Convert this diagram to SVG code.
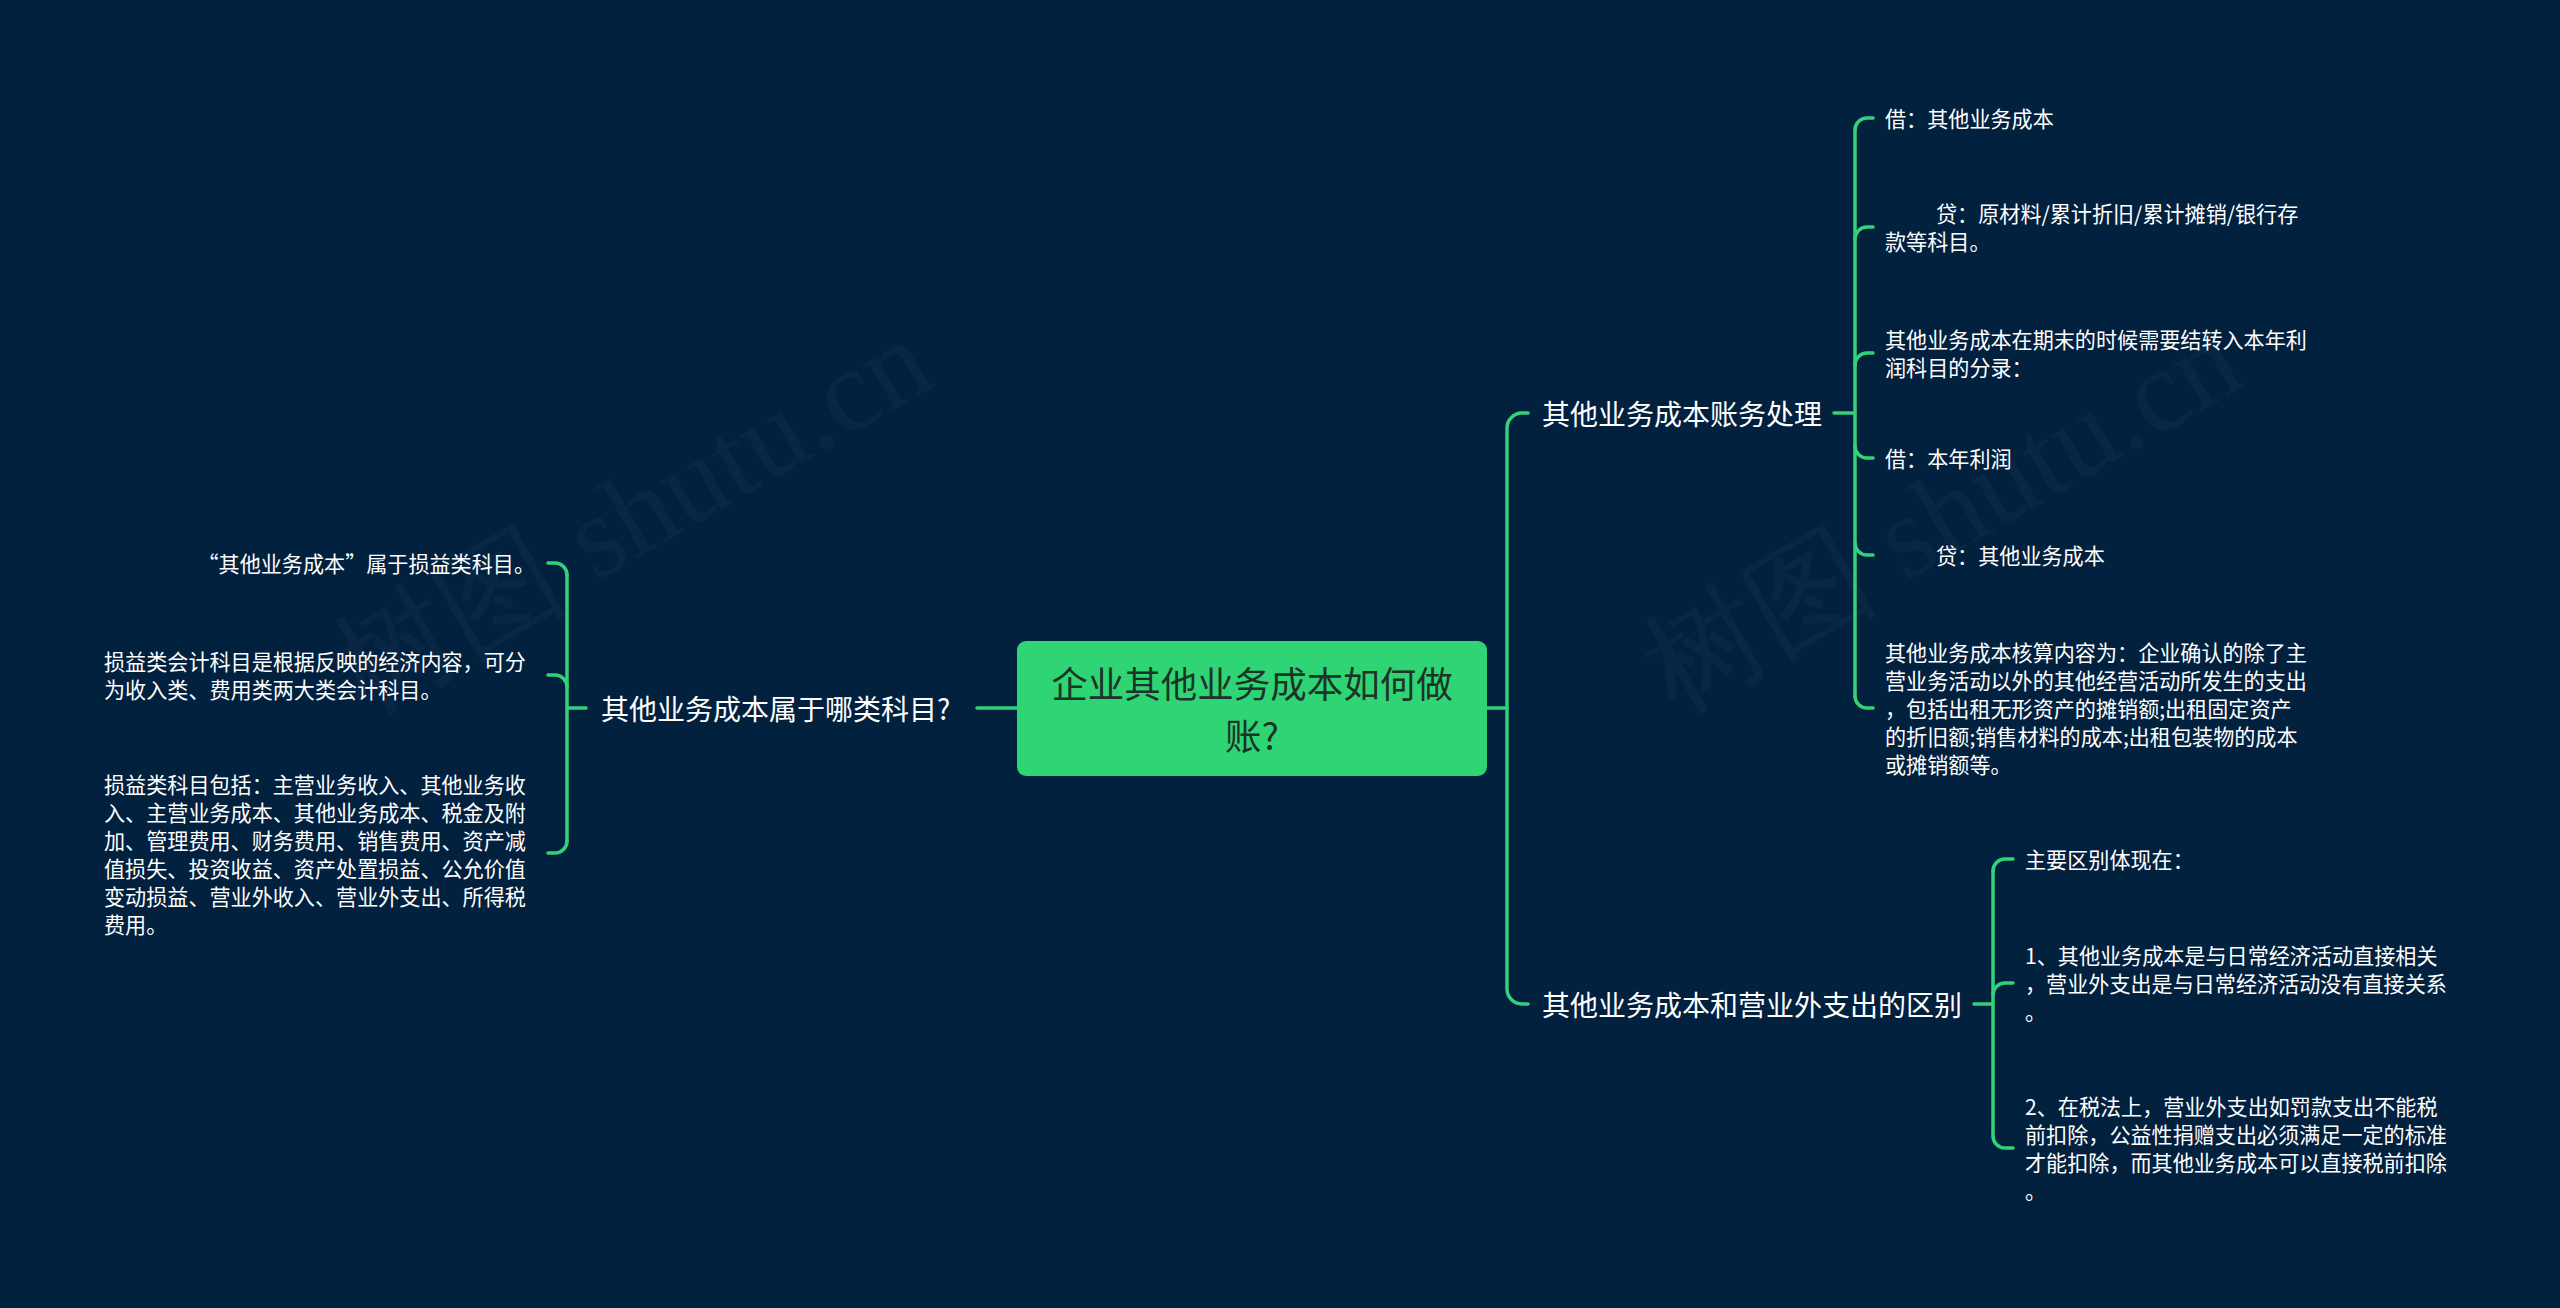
<svg xmlns="http://www.w3.org/2000/svg" width="2560" height="1308" viewBox="0 0 2560 1308">
<style>
.bg{fill:#02213f}
.wm{font-family:"Liberation Serif","Noto Serif",serif;font-size:118px;fill:#ffffff;fill-opacity:0.03}
.ln{fill:none;stroke:#35d07a;stroke-width:3.5;stroke-linecap:round}
.root{fill:#2fd574}
.rt{font-family:"Noto Sans CJK SC",sans-serif;font-size:36.5px;fill:#1b3328;text-anchor:middle;dominant-baseline:central}
.br{font-family:"Noto Sans CJK SC",sans-serif;font-size:28px;fill:#ffffff;dominant-baseline:central}
.lf{font-family:"Noto Sans CJK SC",sans-serif;font-size:21.1px;fill:#ffffff;dominant-baseline:central}
.end{text-anchor:end}
</style>
<rect class="bg" x="0" y="0" width="2560" height="1308"/>
<g id="watermark">
<text class="wm" transform="translate(365,715) rotate(-30)">树图 shutu.cn</text>
<text class="wm" transform="translate(1675,715) rotate(-30)">树图 shutu.cn</text>
</g>
<g id="connectors">
<path class="ln" d="M1487,708 H1507"/>
<path class="ln" d="M1528,413 H1522 A15,15 0 0 0 1507,428 V989 A15,15 0 0 0 1522,1004 H1528"/>
<path class="ln" d="M977,708 H1017"/>
<path class="ln" d="M1834,413 H1855"/>
<path class="ln" d="M1855,130 V696"/>
<path class="ln" d="M1855,130 A12,12 0 0 1 1867,118 H1873"/>
<path class="ln" d="M1855,239 A12,12 0 0 1 1867,227 H1873"/>
<path class="ln" d="M1855,365 A12,12 0 0 1 1867,353 H1873"/>
<path class="ln" d="M1855,446 A12,12 0 0 0 1867,458 H1873"/>
<path class="ln" d="M1855,543 A12,12 0 0 0 1867,555 H1873"/>
<path class="ln" d="M1855,696 A12,12 0 0 0 1867,708 H1873"/>
<path class="ln" d="M1974,1004 H1993"/>
<path class="ln" d="M1993,871 V1136"/>
<path class="ln" d="M1993,871 A12,12 0 0 1 2005,859 H2013"/>
<path class="ln" d="M1993,995 A12,12 0 0 1 2005,983 H2013"/>
<path class="ln" d="M1993,1136 A12,12 0 0 0 2005,1148 H2013"/>
<path class="ln" d="M567,708 H586"/>
<path class="ln" d="M567,575 V841"/>
<path class="ln" d="M567,575 A12,12 0 0 0 555,563 H548"/>
<path class="ln" d="M567,687 A12,12 0 0 0 555,675 H548"/>
<path class="ln" d="M567,841 A12,12 0 0 1 555,853 H548"/>
</g>
<g id="root">
<rect class="root" x="1017" y="641" width="470" height="135" rx="9"/>
<text class="rt" x="1252" y="682">企业其他业务成本如何做</text>
<text class="rt" x="1252" y="734">账?</text>
</g>
<g id="branch-a">
<text class="br" x="1542" y="413">其他业务成本账务处理</text>
</g>
<g id="a1"><text class="lf" x="1885" y="118">借：其他业务成本</text></g>
<g id="a2"><text class="lf" x="1936" y="213">贷：原材料/累计折旧/累计摊销/银行存</text><text class="lf" x="1885" y="241">款等科目。</text></g>
<g id="a3"><text class="lf" x="1885" y="339">其他业务成本在期末的时候需要结转入本年利</text><text class="lf" x="1885" y="367">润科目的分录：</text></g>
<g id="a4"><text class="lf" x="1885" y="458">借：本年利润</text></g>
<g id="a5"><text class="lf" x="1936" y="555">贷：其他业务成本</text></g>
<g id="a6">
<text class="lf" x="1885" y="652">其他业务成本核算内容为：企业确认的除了主</text>
<text class="lf" x="1885" y="680">营业务活动以外的其他经营活动所发生的支出</text>
<text class="lf" x="1885" y="708">，包括出租无形资产的摊销额;出租固定资产</text>
<text class="lf" x="1885" y="736">的折旧额;销售材料的成本;出租包装物的成本</text>
<text class="lf" x="1885" y="764">或摊销额等。</text>
</g>
<g id="branch-b">
<text class="br" x="1542" y="1004">其他业务成本和营业外支出的区别</text>
</g>
<g id="b1"><text class="lf" x="2025" y="859">主要区别体现在：</text></g>
<g id="b2">
<text class="lf" x="2025" y="955">1、其他业务成本是与日常经济活动直接相关</text>
<text class="lf" x="2025" y="983">，营业外支出是与日常经济活动没有直接关系</text>
<text class="lf" x="2025" y="1011">。</text>
</g>
<g id="b3">
<text class="lf" x="2025" y="1106">2、在税法上，营业外支出如罚款支出不能税</text>
<text class="lf" x="2025" y="1134">前扣除，公益性捐赠支出必须满足一定的标准</text>
<text class="lf" x="2025" y="1162">才能扣除，而其他业务成本可以直接税前扣除</text>
<text class="lf" x="2025" y="1190">。</text>
</g>
<g id="branch-c">
<text class="br" x="601" y="708">其他业务成本属于哪类科目?</text>
</g>
<g id="c1"><text class="lf end" x="535" y="563">“其他业务成本”属于损益类科目。</text></g>
<g id="c2">
<text class="lf" x="104" y="661">损益类会计科目是根据反映的经济内容，可分</text>
<text class="lf" x="104" y="689">为收入类、费用类两大类会计科目。</text>
</g>
<g id="c3">
<text class="lf" x="104" y="784">损益类科目包括：主营业务收入、其他业务收</text>
<text class="lf" x="104" y="812">入、主营业务成本、其他业务成本、税金及附</text>
<text class="lf" x="104" y="840">加、管理费用、财务费用、销售费用、资产减</text>
<text class="lf" x="104" y="868">值损失、投资收益、资产处置损益、公允价值</text>
<text class="lf" x="104" y="896">变动损益、营业外收入、营业外支出、所得税</text>
<text class="lf" x="104" y="924">费用。</text>
</g>
</svg>
